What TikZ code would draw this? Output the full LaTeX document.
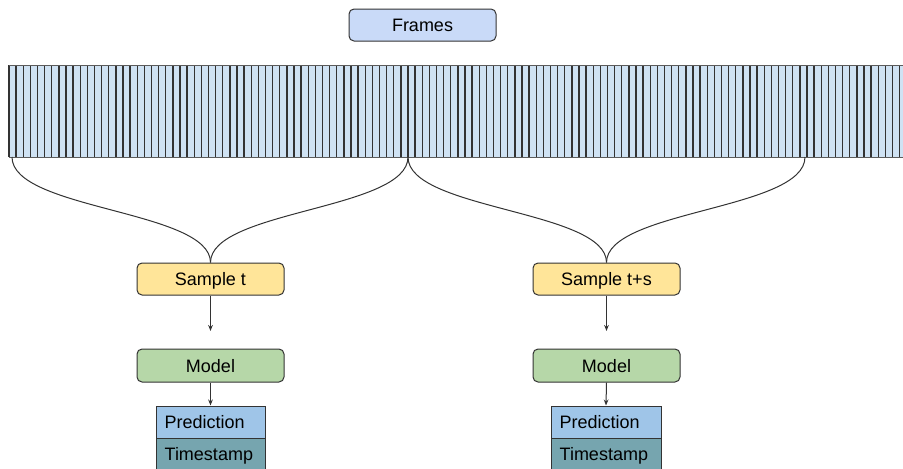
\documentclass[tikz,border=0pt]{standalone}
\usepackage{fontspec}
\setmainfont{Liberation Sans}
\usetikzlibrary{arrows.meta}
\definecolor{framesfill}{HTML}{C9DAF8}
\definecolor{stripfill}{HTML}{CFE2F3}
\definecolor{samplefill}{HTML}{FFE599}
\definecolor{modelfill}{HTML}{B6D7A8}
\definecolor{predfill}{HTML}{9FC5E8}
\definecolor{stampfill}{HTML}{76A5AF}
\definecolor{edge}{HTML}{333333}
\tikzset{
  box/.style={draw=edge, line width=0.75pt, rounded corners=3.75pt,
    minimum width=110.25pt, minimum height=24pt, inner sep=0pt,
    text height=11pt, text depth=1pt,
    font=\fontsize{13.5pt}{16pt}\selectfont},
  cell/.style={draw=edge, line width=0.75pt, minimum height=24pt,
    inner sep=0pt, inner xsep=6.5pt, text height=11pt, text depth=1pt,
    align=left, font=\fontsize{13.5pt}{16pt}\selectfont},
  link/.style={draw=edge, line width=0.75pt},
  arrowlink/.style={link, -{Stealth[length=4.5pt,width=3.5pt]}}
}
\begin{document}
\begin{tikzpicture}[x=0.75pt, y=-0.75pt]
\useasboundingbox (0,0) rectangle (903,468);
\clip (0,0) rectangle (903,468);

% frame strip
\fill[stripfill] (9,65) rectangle (910,157);
\foreach \k in {0,...,126} {
  \draw[edge, line width=1.05pt] ({9+7.125*\k},65) -- ({9+7.125*\k},157);
}
\draw[edge, line width=1.4pt] (408,65) -- (408,157);
\draw[edge!80, line width=0.75pt] (9,65) -- (910,65) (9,157) -- (910,157);

\coordinate (fa) at (12,157);
\coordinate (fm) at (408,157);
\coordinate (fb) at (805,157);

% title
\node[box, fill=framesfill] (frames) at (422.5,25) {Frames};

% two sampling branches
\node[box, fill=samplefill] (st) at (210.5,279) {Sample t};
\node[box, fill=samplefill] (sts) at (606.5,279) {Sample t+s};
\coordinate (at) at (210.5,331);
\coordinate (ats) at (606.5,331);
\node[box, fill=modelfill, minimum height=24.75pt] (mt) at (210.5,365.5) {Model};
\node[box, fill=modelfill, minimum height=24.75pt] (mts) at (606.5,365.5) {Model};

\node[cell, fill=predfill, text width=68.75pt] (pt) at (210.5,422) {Prediction};
\node[cell, fill=stampfill, text width=68.75pt] (tt) at (210.5,454) {Timestamp};
\node[cell, fill=predfill, text width=69.5pt] (pts) at (606,422) {Prediction};
\node[cell, fill=stampfill, text width=69.5pt] (tts) at (606,454) {Timestamp};

% curves from the strip into the samplers
\draw[link] (fa) .. controls (12,210) and (210.5,210) .. (st.north);
\draw[link] (fm) .. controls (408,210) and (210.5,210) .. (st.north);
\draw[link] (fm) .. controls (408,210) and (606.5,210) .. (sts.north);
\draw[link] (fb) .. controls (805,210) and (606.5,210) .. (sts.north);

% arrows
\draw[arrowlink] (st.south) -- (at);
\draw[arrowlink] (sts.south) -- (ats);
\draw[arrowlink] (mt.south) -- (pt.north);
\draw[arrowlink] (mts.south) -- (pts.north);
\end{tikzpicture}
\end{document}
